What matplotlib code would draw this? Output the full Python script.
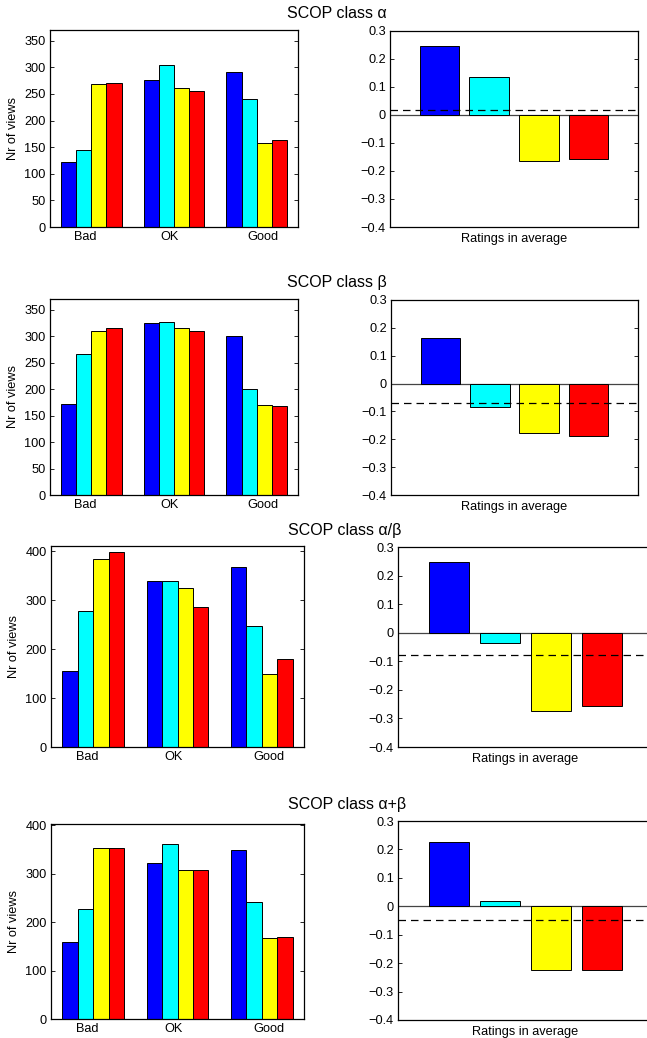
import matplotlib
matplotlib.use("Agg")
import matplotlib.pyplot as plt

plt.rcParams['font.family'] = ['Liberation Sans', 'DejaVu Sans']

# ---------------------------
# Datos
# ---------------------------
clases = ["SCOP class α", "SCOP class β", "SCOP class α/β", "SCOP class α+β"]
grupos = ["Bad", "OK", "Good"]
colores = ["#0000ff", "#00ffff", "#ffff00", "#ff0000"]

# vistas por grupo (Bad, OK, Good) para cada una de las 4 series
vistas_alpha = [[122, 277, 291], [145, 304, 240], [269, 262, 157], [271, 255, 163]]
vistas_beta = [[171, 324, 301], [266, 327, 201], [310, 316, 169], [316, 310, 168]]
vistas_ab = [[155, 340, 368], [278, 339, 247], [385, 326, 150], [398, 286, 179]]
vistas_apb = [[159, 323, 349], [228, 361, 242], [354, 308, 168], [354, 308, 169]]

media_alpha = [0.247, 0.135, -0.163, -0.156]
media_beta = [0.165, -0.083, -0.177, -0.188]
media_ab = [0.248, -0.036, -0.274, -0.256]
media_apb = [0.227, 0.019, -0.224, -0.224]

linea_media = [0.017, -0.071, -0.079, -0.049]

vistas = [vistas_alpha, vistas_beta, vistas_ab, vistas_apb]
medias = [media_alpha, media_beta, media_ab, media_apb]
ylim_izq = [370, 370, 411, 403]
paso_izq = [50, 50, 100, 100]

# ---------------------------
# Layout (pixeles)
# ---------------------------
W, H = 647, 1038
pos_izq = [(50, 30, 298, 227), (50, 299, 298, 495),
           (51, 546, 304, 747), (51, 824, 304, 1019)]
pos_der = [(390, 31, 638, 227), (391, 300, 638, 495),
           (398, 547, 653, 747), (398, 821, 653, 1020)]
titulo_y = [14, 283, 530, 804]
titulo_x = [337, 337, 345, 347]


def rect(p):
    x0, y0, x1, y1 = p
    return [x0 / W, 1 - y1 / H, (x1 - x0) / W, (y1 - y0) / H]


fig = plt.figure(figsize=(W / 100, H / 100), dpi=100)
fs = 9.2

for i in range(4):
    # =========================================================
    # Izquierda -> barras agrupadas
    # =========================================================
    ax = fig.add_axes(rect(pos_izq[i]))
    ancho = 0.183
    for s in range(4):
        xs = [g + 1 + (s - 1.5) * ancho for g in range(3)]
        ax.bar(xs, vistas[i][s], width=ancho, color=colores[s],
               edgecolor="black", linewidth=0.7)
    ax.set_xlim(0.5, 3.5)
    ax.set_ylim(0, ylim_izq[i])
    ax.set_yticks(range(0, int(ylim_izq[i]) + 1, paso_izq[i]))
    ax.set_xticks([0.93, 1.95, 3.08])
    ax.set_xticklabels(grupos)
    ax.tick_params(axis='x', length=0, labelsize=fs, pad=3)
    ax.tick_params(axis='y', direction='in', right=True, length=3,
                   labelsize=fs, width=0.6, pad=3)
    ax.set_ylabel("Nr of views", fontsize=fs)
    ax.yaxis.set_label_coords(-31 / (pos_izq[i][2] - pos_izq[i][0]), 0.5)
    for sp in ax.spines.values():
        sp.set_linewidth(0.9)

    # =========================================================
    # Derecha -> promedio de valoraciones
    # =========================================================
    ax2 = fig.add_axes(rect(pos_der[i]))
    ax2.bar(range(1, 5), medias[i], width=0.8, color=colores,
            edgecolor="black", linewidth=0.7, zorder=3)
    ax2.axhline(0, color="#444444", linewidth=0.9, zorder=2)
    ax2.axhline(linea_media[i], color="black", linewidth=0.9,
                linestyle=(0, (6, 4)), zorder=4)
    ax2.set_xlim(0, 5)
    ax2.set_ylim(-0.4, 0.3)
    ax2.set_yticks([-0.4, -0.3, -0.2, -0.1, 0, 0.1, 0.2, 0.3])
    ax2.set_yticklabels(["\u22120.4", "\u22120.3", "\u22120.2", "\u22120.1",
                         "0", "0.1", "0.2", "0.3"])
    ax2.set_xticks([])
    ax2.tick_params(axis='y', direction='in', right=True, length=3,
                    labelsize=fs, width=0.6, pad=3)
    ax2.set_xlabel("Ratings in average", fontsize=fs, labelpad=4)
    for sp in ax2.spines.values():
        sp.set_linewidth(0.9)

    fig.text(titulo_x[i] / W, 1 - titulo_y[i] / H, clases[i],
             ha='center', va='center', fontsize=11.5)

plt.savefig("out.png", dpi=100)
plt.close()
